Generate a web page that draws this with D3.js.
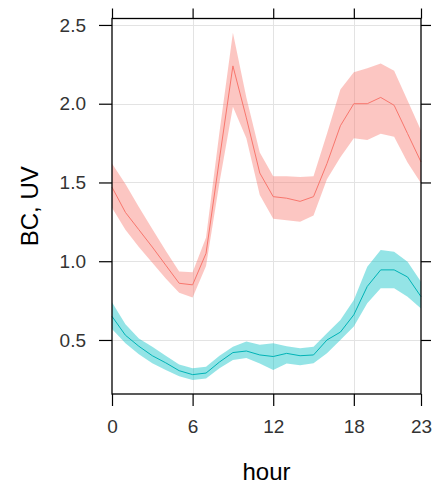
<!DOCTYPE html>
<html>
<head>
<meta charset="utf-8">
<script src="https://cdn.jsdelivr.net/npm/d3@7"></script>
<style>
  html, body { margin: 0; padding: 0; background: #ffffff; }
  svg { display: block; }
  text { font-family: "Liberation Sans", Arial, sans-serif; }
</style>
</head>
<body>
<svg id="chart" width="436" height="489"></svg>
<script>
const hours = [0,1,2,3,4,5,6,7,8,9,10,11,12,13,14,15,16,17,18,19,20,21,22,23];

const bcMean  = [1.47,1.31,1.20,1.09,0.975,0.86,0.85,1.05,1.65,2.24,1.91,1.56,1.41,1.40,1.38,1.41,1.62,1.86,2.00,2.00,2.04,1.99,1.81,1.63];
const bcUpper = [1.62,1.49,1.345,1.205,1.067,0.934,0.93,1.15,1.82,2.45,2.04,1.69,1.54,1.54,1.535,1.54,1.81,2.09,2.20,2.225,2.256,2.21,2.02,1.83];
const bcLower = [1.34,1.20,1.09,0.99,0.89,0.80,0.77,0.97,1.50,1.98,1.78,1.42,1.27,1.26,1.25,1.29,1.52,1.66,1.78,1.77,1.81,1.79,1.626,1.495];

const uvMean  = [0.65,0.53,0.46,0.40,0.355,0.305,0.28,0.29,0.36,0.42,0.43,0.405,0.395,0.415,0.40,0.405,0.50,0.55,0.66,0.84,0.945,0.945,0.90,0.775];
const uvUpper = [0.74,0.60,0.51,0.457,0.40,0.345,0.32,0.33,0.40,0.457,0.49,0.47,0.48,0.46,0.447,0.457,0.542,0.627,0.754,0.965,1.071,1.06,0.997,0.87];
const uvLower = [0.57,0.48,0.41,0.353,0.31,0.27,0.246,0.255,0.32,0.373,0.385,0.35,0.31,0.35,0.34,0.353,0.415,0.50,0.585,0.733,0.828,0.828,0.775,0.70];

const xTicks = [0,6,12,18,23];
const yTicks = [0.5,1.0,1.5,2.0,2.5];

const svg = d3.select("#chart");
const pLeft = 112, pRight = 421, pTop = 18.5, pBottom = 394;

const x = d3.scaleLinear().domain([0,23]).range([pLeft,pRight]);
const y = d3.scaleLinear().domain([0.157,2.541]).range([pBottom,pTop]);

// grid
const grid = svg.append("g");
grid.selectAll("line.gx").data(xTicks.filter(d => d>0 && d<23)).join("line")
  .attr("x1", d => Math.round(x(d))+0.5).attr("x2", d => Math.round(x(d))+0.5)
  .attr("y1", pTop).attr("y2", pBottom)
  .attr("stroke", "#e3e3e3").attr("stroke-width", 1);
grid.selectAll("line.gy").data(yTicks).join("line")
  .attr("y1", d => Math.round(y(d))+0.5).attr("y2", d => Math.round(y(d))+0.5)
  .attr("x1", pLeft).attr("x2", pRight)
  .attr("stroke", "#e3e3e3").attr("stroke-width", 1);

const area = (up, lo) => d3.area()
  .x((d,i) => x(hours[i]))
  .y0((d,i) => y(lo[i]))
  .y1((d,i) => y(up[i]));
const line = vals => d3.line().x((d,i) => x(hours[i])).y((d,i) => y(vals[i]));

const plot = svg.append("g");
plot.append("path").datum(bcMean).attr("d", area(bcUpper, bcLower))
  .attr("fill", "#f8766d").attr("fill-opacity", 0.42).attr("stroke", "none");
plot.append("path").datum(uvMean).attr("d", area(uvUpper, uvLower))
  .attr("fill", "#00bfc4").attr("fill-opacity", 0.42).attr("stroke", "none");
plot.append("path").datum(bcMean).attr("d", line(bcMean))
  .attr("fill", "none").attr("stroke", "#f8766d").attr("stroke-width", 1);
plot.append("path").datum(uvMean).attr("d", line(uvMean))
  .attr("fill", "none").attr("stroke", "#00b3b6").attr("stroke-width", 1);

// axes
const axB = svg.append("g").attr("transform", `translate(0,${pBottom})`)
  .call(d3.axisBottom(x).tickValues(xTicks).tickSize(12).tickPadding(14).tickFormat(d3.format("d")));
const axT = svg.append("g").attr("transform", `translate(0,${pTop})`)
  .call(d3.axisTop(x).tickValues(xTicks).tickSize(10).tickFormat(""));
const axL = svg.append("g").attr("transform", `translate(${pLeft},0)`)
  .call(d3.axisLeft(y).tickValues(yTicks).tickSize(13).tickPadding(13).tickFormat(d3.format(".1f")));
const axR = svg.append("g").attr("transform", `translate(${pRight},0)`)
  .call(d3.axisRight(y).tickValues(yTicks).tickSize(10).tickFormat(""));

[axB, axT, axL, axR].forEach(g => {
  g.select(".domain").remove();
  g.selectAll(".tick line").attr("stroke", "#000").attr("stroke-width", 1.2);
  g.selectAll("text").attr("fill", "#333").attr("font-size", 19)
    .style("font-family", "'Liberation Sans', Arial, sans-serif");
});

svg.append("rect").attr("x", pLeft).attr("y", pTop)
  .attr("width", pRight-pLeft).attr("height", pBottom-pTop)
  .attr("fill", "none").attr("stroke", "#000").attr("stroke-width", 1.3);

svg.append("text").attr("x", (pLeft+pRight)/2).attr("y", 480)
  .attr("text-anchor", "middle").attr("font-size", 24).attr("fill", "#000").text("hour");
svg.append("text").attr("transform", `translate(38,${(pTop+pBottom)/2}) rotate(-90)`)
  .attr("text-anchor", "middle").attr("font-size", 24).attr("fill", "#000").text("BC, UV");
</script>
</body>
</html>
